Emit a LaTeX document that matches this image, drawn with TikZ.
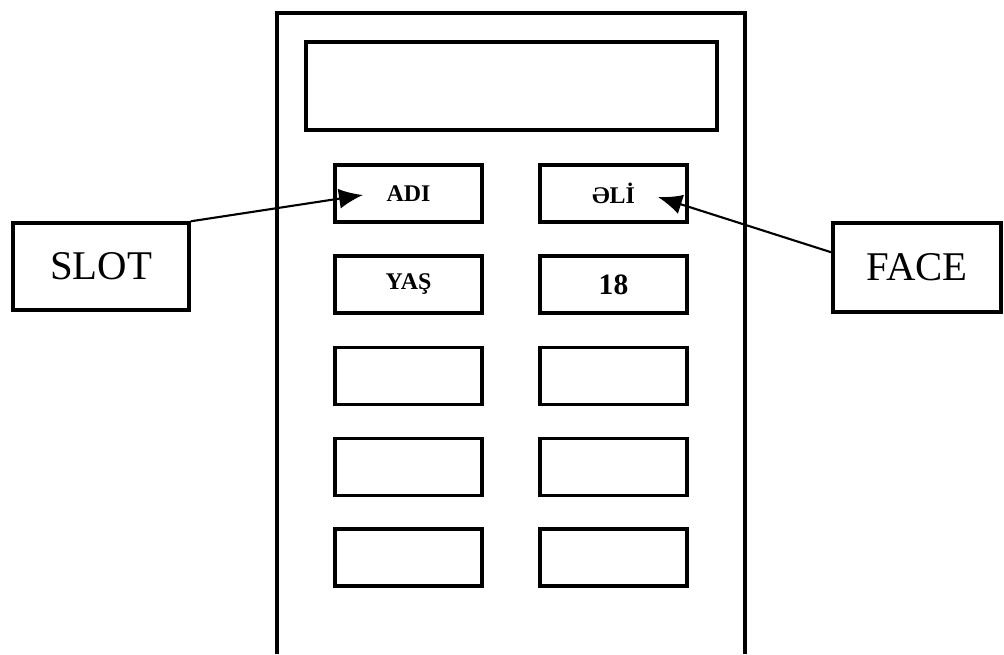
\documentclass[tikz,border=0pt]{standalone}
\usepackage{fontspec}
\setmainfont{Liberation Serif}
\usetikzlibrary{arrows.meta}
\newcommand{\slotw}{3.675cm}
\newcommand{\sloth}{1.43cm}
\newcommand{\frameline}{2.4pt}

\tikzset{
  slotbox/.style = {draw, line width=\frameline, minimum width=\slotw, minimum height=\sloth,
                    inner sep=0pt, font=\fontsize{17}{19}\selectfont\bfseries},
  tagbox/.style = {draw, line width=\frameline, inner sep=0pt, font=\fontsize{29}{32}\selectfont},
  pointer/.style = {line width=1.5pt, -{Latex[length=0.6cm,width=0.5cm]}}
}

\begin{document}
\begin{tikzpicture}[x=0.025cm, y=-0.025cm]
        \useasboundingbox (0,0) rectangle (1004,654);
        
        % device body, runs off the bottom
        \draw[line width=\frameline] (277,654) -- (277,13) -- (745,13) -- (745,654);
        
        \node[draw, line width=\frameline, minimum width=10.275cm, minimum height=2.2cm] (screen) at (511.5,86) {};
        
        \node[slotbox] (adi) at (408.5,193.5) {ADI};
        \node[slotbox] (eli) at (613.5,193.5) {ƏLİ};
        \node[slotbox] (yas) at (408.5,284.5) {YAŞ};
        \node[slotbox, font=\fontsize{21}{23}\selectfont\bfseries] (age) at (613.5,284.5) {18};
        
        \foreach \r/\y in {3/376, 4/467, 5/557.5} {
            \node[slotbox] (l\r) at (408.5,\y) {};
            \node[slotbox] (r\r) at (613.5,\y) {};
        }
        
        \node[tagbox, minimum width=4.4cm, minimum height=2.175cm] (slot) at (101,266.5) {SLOT};
        \node[tagbox, minimum width=4.2cm, minimum height=2.225cm] (face) at (917,267.5) {FACE};
        
        \coordinate (adiTip) at (363,195);
        \coordinate (eliTip) at (658,197);
        
        \draw[pointer] (slot.north east) -- (adiTip);
        \draw[pointer] ([yshift=0.38cm]face.west) -- (eliTip);
        
\end{tikzpicture}
\end{document}
